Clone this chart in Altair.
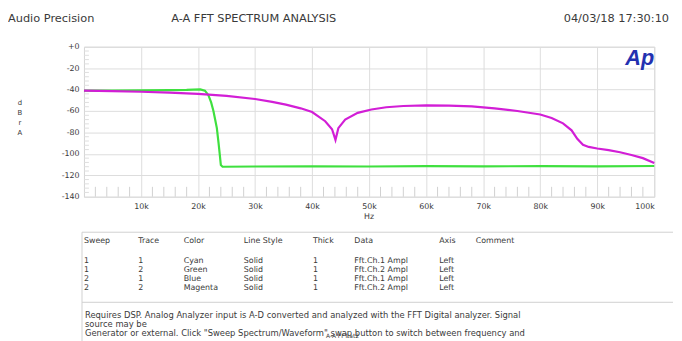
import altair as alt
import pandas as pd

# ---------------- data ----------------
magenta_khz = [0, 5, 10, 15, 20, 25, 30, 33, 35.4, 38, 40, 42.3, 43.5, 44.1, 44.6, 45.8, 48, 50.4, 53, 56,
               60, 64, 68, 72, 76, 80, 82, 84, 85.5, 86.5, 87.5, 88.5, 90, 92, 94, 96, 98, 100]
magenta_db = [-41, -41.5, -42, -42.8, -44, -45.8, -48.8, -51.5, -54, -57.5, -61, -69.5, -77, -87, -76, -68,
              -61.7, -58.6, -56.5, -55.3, -54.7, -55, -55.6, -57.5, -60, -63.3, -66.5, -71.5, -78, -86,
              -91.5, -93.5, -95, -96.5, -98.5, -101, -104, -108.5]

green_khz = [0, 5, 10, 15, 18, 20.4, 21.2, 21.8, 22.3, 22.7, 23.0, 23.3, 23.6, 23.8, 24.0, 24.3,
             30, 40, 50, 60, 70, 80, 90, 100]
green_db = [-41, -41, -40.8, -40.5, -40.3, -39.8, -41, -45, -52, -60, -68, -76, -90, -100, -110.5, -112,
            -111.8, -111.6, -111.8, -111.5, -111.6, -111.5, -111.6, -111.3]

x_ticks_khz = [10, 20, 30, 40, 50, 60, 70, 80, 90, 100]
y_ticks_db = [0, -20, -40, -60, -80, -100, -120, -140]
x_minor_khz = [k for k in range(2, 100, 2) if k % 10 != 0]
y_minor_db = [d for d in range(-136, 0, 4) if d % 20 != 0]

title_left = "Audio Precision"
title_mid = "A-A FFT SPECTRUM ANALYSIS"
title_right = "04/03/18 17:30:10"
y_unit = ["d", "B", "r", "", "A"]
x_unit = "Hz"

table_headers = ["Sweep", "Trace", "Color", "Line Style", "Thick", "Data", "Axis", "Comment"]
col_sweep = ["1", "1", "2", "2"]
col_trace = ["1", "2", "1", "2"]
col_color = ["Cyan", "Green", "Blue", "Magenta"]
col_style = ["Solid", "Solid", "Solid", "Solid"]
col_thick = ["1", "1", "1", "1"]
col_data = ["Fft.Ch.1 Ampl", "Fft.Ch.2 Ampl", "Fft.Ch.1 Ampl", "Fft.Ch.2 Ampl"]
col_axis = ["Left", "Left", "Left", "Left"]
notes = [
    "Requires DSP. Analog Analyzer input is A-D converted and analyzed with the FFT Digital analyzer. Signal",
    "source may be",
    "Generator or external. Click \"Sweep Spectrum/Waveform\" swap button to switch between frequency and",
]
footer = "A-A FFT.at2"

# ---------------- build ----------------
W, H = 578, 152
FONT = "DejaVu Sans"
TXT = "#3a3a3a"

df_m = pd.DataFrame({"hz": [k * 1000 for k in magenta_khz], "db": magenta_db})
df_g = pd.DataFrame({"hz": [k * 1000 for k in green_khz], "db": green_db})
df_xm = pd.DataFrame({"hz": [k * 1000 for k in x_minor_khz]})
df_ym = pd.DataFrame({"db": y_minor_db})
one = pd.DataFrame({"a": [0]})

xscale = alt.Scale(domain=[0, 100000], nice=False, zero=False)
yscale = alt.Scale(domain=[-140, 0], nice=False, zero=False)

xaxis = alt.Axis(values=[k * 1000 for k in x_ticks_khz], labelExpr="(datum.value/1000) + 'k'",
                 title=None, grid=True, gridColor="#dcdcdc", gridWidth=1, domain=False, ticks=False,
                 labelFlush=True, labelOverlap=False, labelFont=FONT, labelFontSize=8, labelColor=TXT,
                 labelPadding=6)
yaxis = alt.Axis(values=y_ticks_db, labelExpr="datum.value == 0 ? '+0' : '' + datum.value",
                 title=None, grid=True, gridColor="#dcdcdc", gridWidth=1, domain=False, ticks=False,
                 labelOverlap=False, labelFont=FONT, labelFontSize=8, labelColor=TXT, labelPadding=5)

X = alt.X("hz:Q", scale=xscale, axis=xaxis)
Y = alt.Y("db:Q", scale=yscale, axis=yaxis)

green = alt.Chart(df_g).mark_line(color="#3fe03f", strokeWidth=2.2).encode(x=X, y=Y)
magenta = alt.Chart(df_m).mark_line(color="#d21ed6", strokeWidth=2.2).encode(x=X, y=Y)

xminor = alt.Chart(df_xm).mark_rule(color="#d0d0d0", strokeWidth=1).encode(
    x=X, y=alt.value(H - 10), y2=alt.value(H))
yminor = alt.Chart(df_ym).mark_rule(color="#dddddd", strokeWidth=1).encode(
    y=Y, x=alt.value(0), x2=alt.value(5))


def txt(text, x, y, size=8, align="left", baseline="middle", font=FONT, color=TXT, **kw):
    return alt.Chart(one).mark_text(text=text, align=align, baseline=baseline, font=font,
                                    fontSize=size, color=color, **kw).encode(
        x=alt.value(x), y=alt.value(y))


def rule(x, x2, y, y2, color="#d0d0d0"):
    return alt.Chart(one).mark_rule(color=color, strokeWidth=1).encode(
        x=alt.value(x), x2=alt.value(x2), y=alt.value(y), y2=alt.value(y2))


layers = [green, xminor, yminor, magenta,
          txt(title_left, -77, -28, size=11.5),
          txt(title_mid, 172, -28, size=11.5, align="center"),
          txt(title_right, 593, -28, size=11.5, align="right"),
          txt("Ap", 578, 11, size=22, align="right", color="#2331b0", fontStyle="italic", fontWeight="bold",
              font="Liberation Sans"),
          txt(y_unit, -65, 53, size=7, align="center", baseline="top", lineHeight=10),
          txt(x_unit, 289, 173, size=8, align="center"),
          rule(-2, 597, 188, 188),
          rule(-2, 597, 259, 259),
          rule(-2, -2, 188, 300)]

col_x = [0, 55, 101, 162, 232, 274, 360, 397]
for h, cx in zip(table_headers, col_x):
    layers.append(txt(h, cx, 196.5, size=8))
for col, cx in zip([col_sweep, col_trace, col_color, col_style, col_thick, col_data, col_axis], col_x):
    layers.append(txt(col, cx, 217.5, size=8, baseline="middle", lineHeight=9))

layers.append(txt(notes, 1, 271.5, size=8.5, baseline="middle", lineHeight=9.5))
layers.append(txt(footer, 262, 293.5, size=6, align="center"))

chart = alt.layer(*layers).properties(
    width=W, height=H,
    padding={"left": 77, "top": 37, "right": 20, "bottom": 146},
    autosize=alt.AutoSizeParams(type="none"),
    background="white",
).configure_view(stroke="#d4d4d4")

chart.save("out.html", embed_options={"renderer": "svg", "actions": False})
